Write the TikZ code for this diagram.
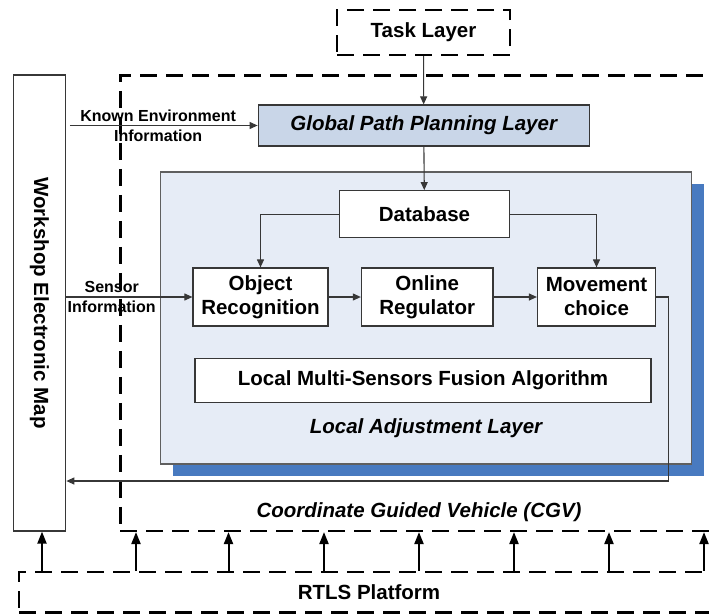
\documentclass[tikz,border=0pt]{standalone}
\usepackage{fontspec}
\setmainfont{Liberation Sans}
\usepackage{tikz}
\usetikzlibrary{arrows.meta,shadows}
\definecolor{globalfill}{RGB}{201,214,232}
\definecolor{localfill}{RGB}{230,236,246}
\definecolor{shadowblue}{RGB}{72,122,192}
\definecolor{edgegray}{RGB}{55,55,55}

\begin{document}
\begin{tikzpicture}[>={Triangle[length=8pt,width=7pt]},line width=1.1pt,
  bigfont/.style={font=\fontsize{20.5}{24}\selectfont\bfseries},
  block/.style={rectangle,draw=edgegray,line width=1.2pt,fill=white,inner sep=0pt,align=center,bigfont},
  layer/.style={rectangle,draw,dash pattern=on 17pt off 9pt,line width=2.2pt,inner sep=0pt},
  infolabel/.style={align=center,font=\fontsize{16}{20}\selectfont\bfseries},
  uparrow/.style={-{Triangle[length=12pt,width=9pt]},line width=2pt}]
  \useasboundingbox (0pt,0pt) rectangle (709pt,-613pt);
  \draw (425.2pt, -303.2pt)node[layer, minimum width=609.5pt, minimum height=455.5pt](8){};
  \draw (374.5pt, -592.2pt)node[layer, minimum width=711pt, minimum height=40.5pt](9){};
  \draw (423.5pt, -32.5pt)node[layer, bigfont, minimum width=173pt, minimum height=45pt](0){Task Layer};
  \draw (423.7pt, -125.5pt)node[block, fill=globalfill, font=\fontsize{20.5}{24}\selectfont\bfseries\itshape, minimum width=331pt, minimum height=41pt](1){Global Path Planning Layer};
  \draw (426.2pt, -317.9pt)node[rectangle, draw=edgegray!80, line width=1.2pt, fill=localfill, minimum width=531pt, minimum height=292pt,
    drop shadow={opacity=1, fill=shadowblue, shadow xshift=12.5pt, shadow yshift=-12.5pt}](2){};
  \draw (424.5pt, -214.2pt)node[block, minimum width=170pt, minimum height=47pt](3){Database};
  \draw (260.5pt, -297pt)node[block, minimum width=135pt, minimum height=58pt](4){Object\\Recognition};
  \draw (427.2pt, -297pt)node[block, minimum width=131.5pt, minimum height=58pt](5){Online\\Regulator};
  \draw (596.5pt, -297pt)node[block, minimum width=118pt, minimum height=58pt](6){Movement\\choice};
  \draw (423pt, -380.7pt)node[block, minimum width=456pt, minimum height=44pt](7){Local Multi-Sensors Fusion Algorithm};
  \draw (39.5pt, -303pt)node[block, minimum width=52.5pt, minimum height=456pt](10){\rotatebox{-90}{Workshop Electronic Map}};
  \draw (426pt, -428pt)node[font=\fontsize{20.5}{24}\selectfont\bfseries\itshape](11){Local Adjustment Layer};
  \draw (419pt, -512pt)node[font=\fontsize{20.5}{24}\selectfont\bfseries\itshape](12){Coordinate Guided Vehicle (CGV)};
  \draw (369pt, -592pt)node[bigfont](13){RTLS Platform};
  \coordinate (c) at (668.6pt, -481pt);
  \path (0) edge[->, edgegray] (1);
  \path (1) edge[->, edgegray] (3);
  \path (4) edge[->, edgegray] (5);
  \path (5) edge[->, edgegray] (6);
  \draw[->, edgegray] (3.west) -| (4.north);
  \draw[->, edgegray] (3.east) -| (6.north);
  \draw[->, edgegray] (6.east) -| (c) -- (c -| 10.east);
  \path (10.east |- 1) edge[->, edgegray, shorten <=3.5pt] node[infolabel, black, pos=0.48]{Known Environment\\Information} (1);
  \path (10.east |- 4) edge[->, edgegray] node[infolabel, black, pos=0.36]{Sensor\\Information} (4);
  \path (42pt, 0pt) coordinate (t);
  \draw[uparrow] (t |- 9.north) -- (t |- 10.south);
  \foreach \x in {136,228.5,324,419,514,609,704} {
    \path (\x pt, 0pt) coordinate (t);
    \draw[uparrow] (t |- 9.north) -- (t |- 8.south);
  }
\end{tikzpicture}
\end{document}
